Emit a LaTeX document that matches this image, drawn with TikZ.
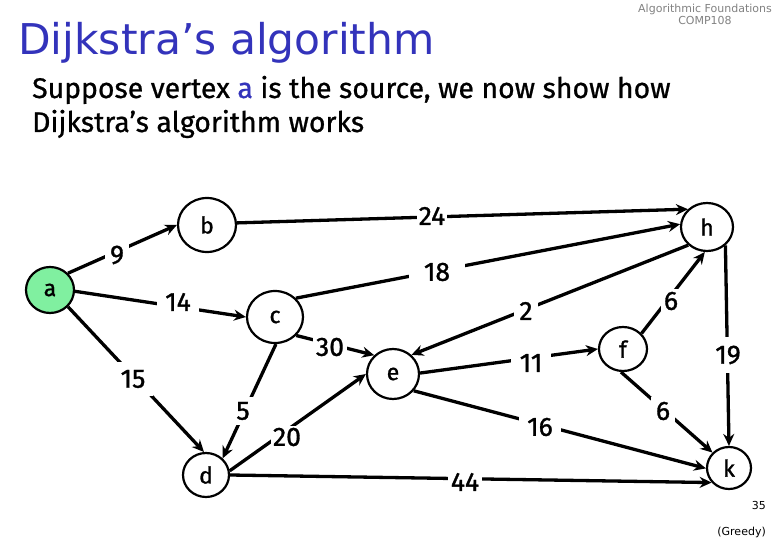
\documentclass[tikz,border=0pt]{standalone}
\usepackage{fontspec}
\setmainfont{Fira Sans}
\newfontfamily\titlefont{DejaVu Sans}
\newfontfamily\heavyfont{Fira Sans}[FakeBold=1.2]
\newfontfamily\bodyfont{Fira Sans}[FakeBold=0.8]
\usetikzlibrary{arrows.meta,shapes.geometric}
\definecolor{titleblue}{RGB}{51,51,187}
\definecolor{srcgreen}{RGB}{128,240,160}
\definecolor{hdrgray}{RGB}{130,130,130}
\begin{document}
\begin{tikzpicture}[x=1pt,y=-1pt,
  vtx/.style={ellipse, draw, line width=2.2pt, inner sep=0pt, font=\heavyfont\fontsize{23}{23}\selectfont},
  edge/.style={line width=3.3pt, -{Stealth[length=12pt,width=11pt,inset=4pt]}},
  wlbl/.style={fill=white, inner sep=5pt, font=\heavyfont\fontsize{26.5}{26}\selectfont},
  hdr/.style={inner sep=0pt, font=\titlefont\fontsize{11}{11}\selectfont}
]
\useasboundingbox[fill=white] (0,0) rectangle (780,540);

% header texts
\node[hdr, anchor=base, text=hdrgray] (hd1) at (705,13) {Algorithmic Foundations};
\node[hdr, anchor=base, text=hdrgray] (hd2) at (705,25) {COMP108};
\node[anchor=base west, inner sep=0pt, text=titleblue, font=\titlefont\fontsize{42.4}{42}\selectfont] (title) at (18,55) {Dijkstra’s algorithm};
\node[anchor=base west, inner sep=0pt, font=\bodyfont\fontsize{28.4}{29}\selectfont] (l1) at (32,98) {Suppose vertex \textcolor{titleblue}{a} is the source, we now show how};
\node[anchor=base west, inner sep=0pt, font=\bodyfont\fontsize{28.4}{29}\selectfont] (l2) at (32,132) {Dijkstra’s algorithm works};
\node[hdr, anchor=base east] (pg) at (766,509) {35};
\node[hdr, anchor=base east] (gr) at (766,535) {(Greedy)};

% vertices
\node[vtx, fill=srcgreen, minimum width=48pt, minimum height=46pt] (a) at (50,290) {a};
\node[vtx, minimum width=58pt, minimum height=54pt] (b) at (207,225) {b};
\node[vtx, minimum width=56pt, minimum height=52pt] (c) at (275,317) {c};
\node[vtx, minimum width=52pt, minimum height=48pt] (h) at (707,227) {h};
\node[vtx, minimum width=46pt, minimum height=44pt] (d) at (206,475) {d};
\node[vtx, minimum width=52pt, minimum height=50pt] (e) at (393,374) {e};
\node[vtx, minimum width=48pt, minimum height=44pt] (f) at (623,349) {f};
\node[vtx, minimum width=44pt, minimum height=42pt] (k) at (729,468) {k};

% edges
\draw[edge] (a.43) -- (b.180);
\draw[edge] (a.-3) -- (c.180);
\draw[edge] (a.-43) -- (d.95);
\draw[edge] (b.4) -- (h.137);
\draw[edge] (c.42) -- (h.174);
\draw[edge] (h.-136) -- (e.46);
\draw[edge] (f.40) -- (h.-95);
\draw[edge] (h.-45) -- (k.90);
\draw[edge] (c.-41) -- (e.135);
\draw[edge] (c.-88) -- (d.45);
\draw[edge] (d.10) -- (e.180);
\draw[edge] (e.2) -- (f.180);
\draw[edge] (e.-39) -- (k.181);
\draw[edge] (f.-95) -- (k.137);
\draw[edge] (d.0) -- (k.-140);

% weights
\node[wlbl] (w9) at (117,255) {9};
\node[wlbl, inner sep=8pt] (w14) at (178,302) {14};
\node[wlbl, inner sep=8pt] (w15) at (133,379) {15};
\node[wlbl, inner sep=2pt] (w24) at (432,216) {24};
\node[wlbl, inner xsep=15pt] (w18) at (437,272) {18};
\node[wlbl] (w2) at (526,311) {2};
\node[wlbl, inner sep=3pt] (w6a) at (671,301) {6};
\node[wlbl, inner sep=9pt] (w19) at (728,355) {19};
\node[wlbl, inner sep=3pt] (w30) at (330,347) {30};
\node[wlbl] (w5) at (243,411) {5};
\node[wlbl, inner sep=2pt] (w20) at (287,437) {20};
\node[wlbl, inner sep=9pt] (w11) at (531,363) {11};
\node[wlbl, inner sep=8pt] (w16) at (540,427) {16};
\node[wlbl] (w6b) at (663,411) {6};
\node[wlbl, inner sep=3pt] (w44) at (465,482) {44};
\end{tikzpicture}
\end{document}
